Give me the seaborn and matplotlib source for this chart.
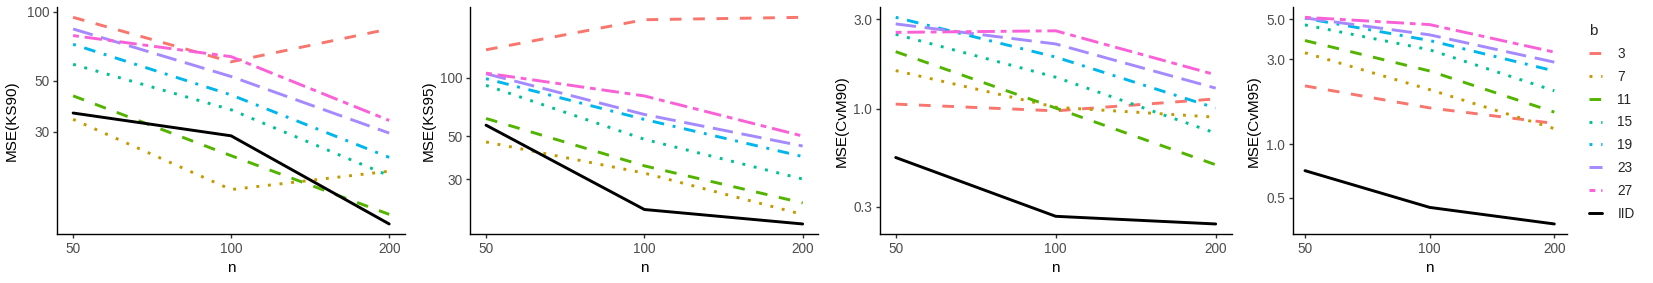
import numpy as np
import pandas as pd
import matplotlib
matplotlib.use("Agg")
import matplotlib.pyplot as plt
import seaborn as sns

# ---------------- data ----------------
n_values = [50, 100, 200]
b_levels = ["3", "7", "11", "15", "19", "23", "27", "IID"]

ks90 = {"3": [94.5, 60.5, 84.1], "7": [34.0, 16.8, 20.2], "11": [43.0, 23.6, 13.1],
        "15": [59.0, 37.4, 19.3], "19": [72.1, 43.4, 23.2], "23": [84.1, 52.2, 29.6],
        "27": [78.7, 63.7, 33.6], "IID": [36.2, 28.8, 11.9]}
ks95 = {"3": [139.2, 199.0, 204.7], "7": [46.6, 32.2, 19.7], "11": [61.6, 35.1, 22.6],
        "15": [91.3, 48.1, 30.0], "19": [98.8, 60.9, 39.2], "23": [104.8, 64.6, 44.4],
        "27": [105.5, 80.5, 50.0], "IID": [56.9, 20.9, 17.6]}
cvm90 = {"3": [1.06, 0.976, 1.13], "7": [1.60, 1.02, 0.903], "11": [2.02, 1.01, 0.503],
         "15": [2.50, 1.476, 0.742], "19": [3.08, 1.89, 1.01], "23": [2.84, 2.22, 1.29],
         "27": [2.56, 2.61, 1.52], "IID": [0.550, 0.267, 0.243]}
cvm95 = {"3": [2.12, 1.595, 1.305], "7": [3.25, 2.02, 1.22], "11": [3.81, 2.57, 1.51],
         "15": [4.66, 3.38, 1.99], "19": [5.08, 3.81, 2.57], "23": [5.10, 4.10, 2.88],
         "27": [5.14, 4.68, 3.28], "IID": [0.709, 0.441, 0.356]}

panel_titles = ["MSE(KS90)", "MSE(KS95)", "MSE(CvM90)", "MSE(CvM95)"]
yticks_ks90 = [30, 50, 100]
yticks_ks95 = [30, 50, 100]
yticks_cvm90 = [0.3, 1.0, 3.0]
yticks_cvm95 = [0.5, 1.0, 3.0, 5.0]
ytick_labels_ks90 = ["30", "50", "100"]
ytick_labels_ks95 = ["30", "50", "100"]
ytick_labels_cvm90 = ["0.3", "1.0", "3.0"]
ytick_labels_cvm95 = ["0.5", "1.0", "3.0", "5.0"]

# ---------------- styles ----------------
palette = {"3": "#F8766D", "7": "#C49A00", "11": "#53B400", "15": "#00C094",
           "19": "#00B6EB", "23": "#A58AFF", "27": "#FB61D7", "IID": "#000000"}
dash_map = {"3": (4, 4), "7": (1, 3), "11": (4, 4), "15": (1, 3),
            "19": (1, 3, 4, 3), "23": (7, 3), "27": (2, 2, 6, 2), "IID": ""}

sns.set_theme(style="ticks")
plt.rcParams["font.family"] = ["Liberation Sans", "DejaVu Sans"]

W, H = 1653, 283
fig = plt.figure(figsize=(W / 100, H / 100), dpi=100)

ax_px = [(57.3, 405.0), (470.2, 818.5), (879.7, 1231.7), (1292.5, 1566.8)]
top_px, bot_px = 7.0, 234.3
ylab_px = [18.5, 436.0, 848.5, 1261.0]
LW = 2.1
TICK_FS = 9.8

panels = [ks90, ks95, cvm90, cvm95]
yticks_all = [yticks_ks90, yticks_ks95, yticks_cvm90, yticks_cvm95]
ylabels_all = [ytick_labels_ks90, ytick_labels_ks95, ytick_labels_cvm90, ytick_labels_cvm95]

axes = []
for i, (d, (l, r)) in enumerate(zip(panels, ax_px)):
    ax = fig.add_axes([l / W, 1 - bot_px / H, (r - l) / W, (bot_px - top_px) / H])
    df = pd.DataFrame([(b, n, v) for b in b_levels for n, v in zip(n_values, d[b])],
                      columns=["b", "n", "val"])
    sns.lineplot(data=df, x="n", y="val", hue="b", style="b",
                 hue_order=b_levels, style_order=b_levels,
                 palette=palette, dashes=dash_map, linewidth=LW,
                 legend=(i == 3), ax=ax)
    ax.set_xscale("log")
    ax.set_yscale("log")
    lx = np.log10(n_values)
    ex = 0.05 * (lx.max() - lx.min())
    ax.set_xlim(10 ** (lx.min() - ex), 10 ** (lx.max() + ex))
    ly = np.log10(df["val"].values)
    ey = 0.05 * (ly.max() - ly.min())
    ax.set_ylim(10 ** (ly.min() - ey), 10 ** (ly.max() + ey))
    ax.set_xticks(n_values)
    ax.set_xticklabels([str(v) for v in n_values])
    ax.set_yticks(yticks_all[i])
    ax.set_yticklabels(ylabels_all[i])
    ax.minorticks_off()
    ax.tick_params(axis="both", length=3.2, width=1.0, color="#333333",
                   labelcolor="#4D4D4D", labelsize=TICK_FS, pad=2.2)
    for s in ["top", "right"]:
        ax.spines[s].set_visible(False)
    for s in ["left", "bottom"]:
        ax.spines[s].set_color("black")
        ax.spines[s].set_linewidth(1.0)
    ax.set_xlabel("n", fontsize=11, color="black", labelpad=4)
    ax.set_ylabel(panel_titles[i], fontsize=11, color="black")
    ax.yaxis.set_label_coords((ylab_px[i] - l) / (r - l), 0.5)
    ax.grid(False)
    axes.append(ax)

ax4 = axes[3]
sns.move_legend(ax4, loc="upper left", bbox_to_anchor=(1589 / W, 1 - 24 / H),
                bbox_transform=fig.transFigure, frameon=False, title="b",
                fontsize=TICK_FS, title_fontsize=11, handlelength=0.98,
                handletextpad=1.1, labelspacing=0.65, borderpad=0,
                borderaxespad=0, alignment="left")
leg = ax4.get_legend()
for h in leg.get_lines():
    h.set_linewidth(LW)

fig.savefig("out.png", dpi=100)
